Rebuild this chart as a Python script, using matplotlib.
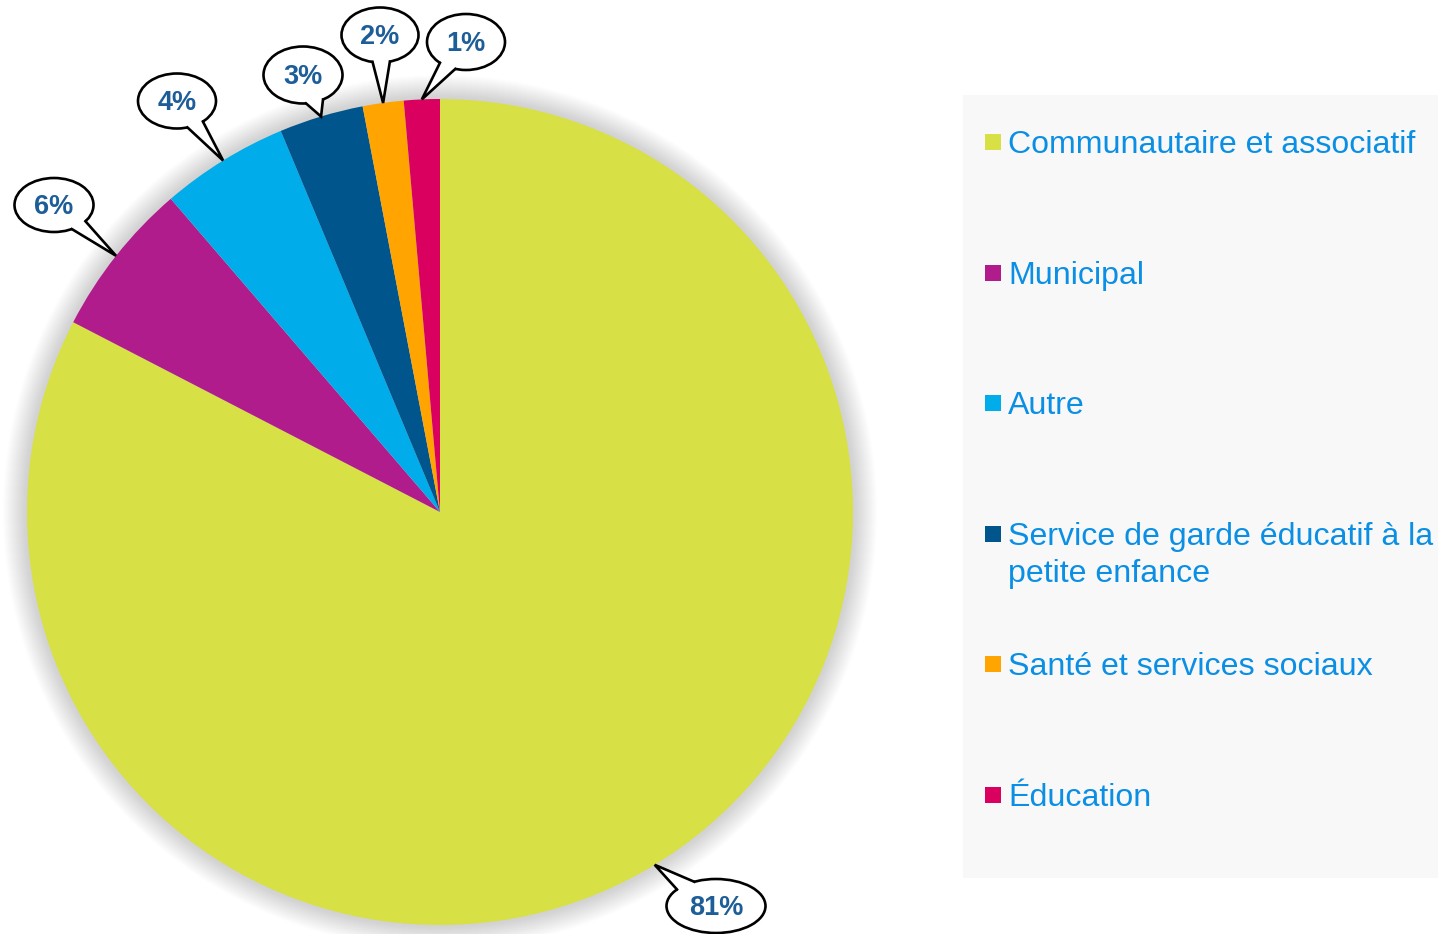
import numpy as np
import matplotlib
matplotlib.use("Agg")
import matplotlib.pyplot as plt
from matplotlib.patches import Ellipse, Polygon, Rectangle, Circle

plt.rcParams['font.family'] = ['Liberation Sans', 'DejaVu Sans']

# data
categories = ["Communautaire et associatif", "Municipal", "Autre",
              "Service de garde éducatif à la\npetite enfance",
              "Santé et services sociaux", "Éducation"]
shares = [82.6, 6.1, 5.0, 3.3, 1.6, 1.4]
pct_labels = ["81%", "6%", "4%", "3%", "2%", "1%"]
colors = ["#D7E044", "#B01C8C", "#00ADEA", "#00558C", "#FFA400", "#D9005F"]

W, H = 1438, 934
def Y(y):
    return H - y

fig = plt.figure(figsize=(W / 100, H / 100), dpi=100)
ax = fig.add_axes([0, 0, 1, 1])

cx, cy, r = 440, Y(512), 413

# soft shadow around the pie
for k in range(24, 0, -1):
    ax.add_patch(Circle((cx, cy), r + k, color="#808080", alpha=0.011, lw=0, zorder=0))

wedges, _ = ax.pie(shares, colors=colors, startangle=90, counterclock=False,
                   center=(cx, cy), radius=r, wedgeprops=dict(linewidth=0))
for w in wedges:
    w.set_zorder(1)

# callout bubbles: centre (px), width, height
bubbles = [((716, 906), 99, 54),
           ((54, 205), 79, 54),
           ((177, 101), 78, 55),
           ((303, 75), 79, 57),
           ((380, 35), 77, 55),
           ((466, 42), 78, 56)]

for w, lab, ((bx, by), bw, bh) in zip(wedges, pct_labels, bubbles):
    mid = np.deg2rad((w.theta1 + w.theta2) / 2)
    tip = (cx + r * np.cos(mid), cy + r * np.sin(mid))
    ex, ey = bx, Y(by)
    a, b = bw / 2, bh / 2
    t = np.arctan2((tip[1] - ey) / b, (tip[0] - ex) / a)
    d = np.deg2rad(13)
    p1 = (ex + a * np.cos(t - d), ey + b * np.sin(t - d))
    p2 = (ex + a * np.cos(t + d), ey + b * np.sin(t + d))
    ax.add_patch(Ellipse((ex, ey), bw, bh, fc="white", ec="black", lw=1.9, zorder=5))
    ax.add_patch(Polygon([p1, tip, p2, (ex, ey)], closed=True, fc="white", ec="none", zorder=6))
    ax.plot([p1[0], tip[0], p2[0]], [p1[1], tip[1], p2[1]], color="black", lw=1.9,
            zorder=7, solid_joinstyle="miter")
    ax.text(ex, ey - 2, lab, ha="center", va="center", fontsize=19.5, fontweight="bold",
            color="#1D5E98", zorder=8)

# legend panel
ax.add_patch(Rectangle((963, Y(878)), W - 963, 878 - 95, fc="#F8F8F8", ec="none", zorder=0))
row_y = [142, 273, 403, 534, 664, 795]
for cat, col, ry in zip(categories, colors, row_y):
    ax.add_patch(Rectangle((985, Y(ry) - 8), 16, 16, fc=col, ec="none", zorder=2))
    for i, line in enumerate(cat.split("\n")):
        ax.text(1008, Y(ry + 3 + i * 37), line, ha="left", va="center", fontsize=23.1,
                color="#0B8FE4", zorder=3)

ax.set_xlim(0, W)
ax.set_ylim(0, H)
ax.set_aspect("equal")
ax.axis("off")

fig.savefig("out.png", dpi=100)
